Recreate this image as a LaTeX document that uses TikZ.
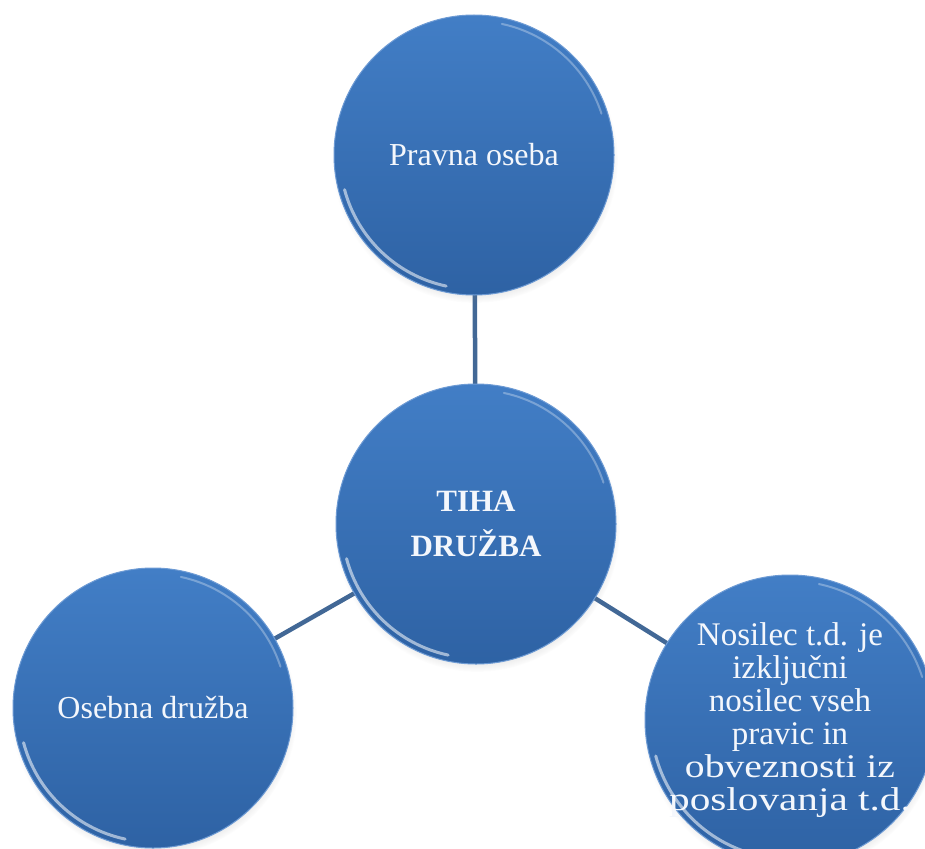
\documentclass[tikz,border=0pt]{standalone}
\usepackage{fontspec}
\setmainfont{Liberation Serif}
\usetikzlibrary{shadows}

\definecolor{bubbletop}{RGB}{66,126,198}
\definecolor{bubblebottom}{RGB}{46,98,164}
\definecolor{bubblerim}{RGB}{110,155,212}
\definecolor{linkcol}{RGB}{66,104,150}
\definecolor{textcol}{RGB}{244,247,252}

\pgfdeclarelayer{bg}
\pgfsetlayers{bg,main}

% a line that may run wider than the circle without enlarging it
\newcommand{\wideline}[2]{\makebox[0pt]{\scalebox{#1}[1]{#2}}}

\tikzset{
  bubble/.style={
    circle, minimum size=280pt, inner sep=0pt,
    top color=bubbletop, bottom color=bubblebottom,
    draw=bubblerim, line width=1pt,
    circular drop shadow={shadow xshift=1pt, shadow yshift=-5pt,
                          shadow scale=1.02, opacity=0.35},
    text=textcol, align=center
  },
  plainlabel/.style={font=\fontsize{32}{35}\selectfont},
  boldlabel/.style={font=\bfseries\fontsize{31}{45}\selectfont},
  widelabel/.style={font=\fontsize{33}{33}\selectfont},
  link/.style={draw=linkcol, line width=4.5pt},
  gloss/.style={draw=white, line width=3pt, line cap=round, opacity=0.55},
  softgloss/.style={draw=white, line width=2pt, line cap=round, opacity=0.3}
}

\begin{document}
\begin{tikzpicture}[x=1pt, y=-1pt]
  \useasboundingbox (0,0) rectangle (925,848);

  % the four circles
  \node[bubble, plainlabel] (legal)  at (474,155) {Pravna oseba};
  \node[bubble, boldlabel]  (centre) at (476,524) {TIHA\\DRUŽBA};
  \node[bubble, plainlabel] (person) at (153,708) {Osebna družba};
  \node[bubble, widelabel, minimum size=290pt] (holder) at (790,720)
    {Nosilec t.d. je\\izključni\\nosilec vseh\\pravic in\\
     \wideline{1.2}{obveznosti iz}\\\wideline{1.25}{poslovanja t.d.}};

  % connectors from the centre to each outer circle
  \begin{pgfonlayer}{bg}
    \draw[link] (centre.center) -- (legal.center);
    \draw[link] (centre.center) -- (person.center);
    \draw[link] (centre.center) -- (holder.center);
  \end{pgfonlayer}

  % bevel highlights along the rims
  \foreach \n/\r in {legal/134, centre/134, person/134, holder/139} {
    \draw[gloss] ([shift={(195:\r pt)}]\n.center) arc[start angle=195, end angle=258, radius=\r pt];
    \draw[softgloss] ([shift={(18:\r pt)}]\n.center) arc[start angle=18, end angle=78, radius=\r pt];
  }
\end{tikzpicture}
\end{document}
